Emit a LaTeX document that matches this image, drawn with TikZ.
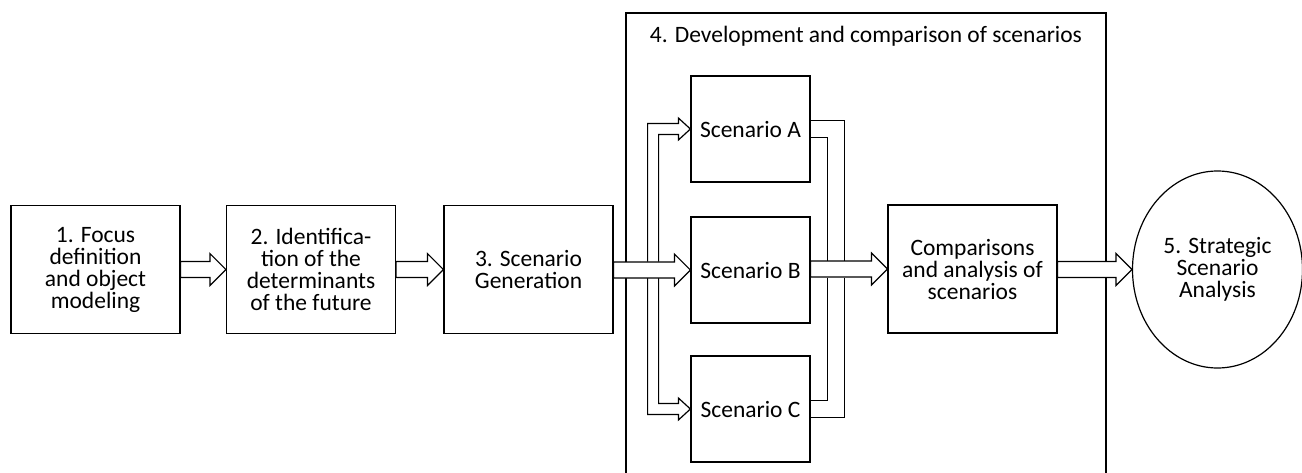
\documentclass[tikz,border=0pt]{standalone}
\usepackage{fontspec}
\setmainfont{Carlito}
\usetikzlibrary{calc,shapes.geometric}

% hollow block arrow from the east side of #1 to the west side of #2
\newcommand\hollowarrow[2]{%
  \draw[fill=white] let \p1=(#1.east), \p2=(#2.west) in
    (\x1,\y2+8pt) -- (\x2-16pt,\y2+8pt) -- (\x2-16pt,\y2+16pt) -- (\x2,\y2)
    -- (\x2-16pt,\y2-16pt) -- (\x2-16pt,\y2-8pt) -- (\x1,\y2-8pt) -- cycle;}

\begin{document}
\begin{tikzpicture}[x=1pt,y=-1pt,line width=1.2pt,
  every node/.style={font=\fontsize{23.5}{22}\selectfont},
  stage/.style={draw,rectangle,align=center,inner sep=0pt,
    minimum width=169pt,minimum height=128pt},
  scen/.style={draw,rectangle,align=center,inner sep=0pt,
    minimum width=119pt,minimum height=106pt}]
\useasboundingbox (0,0) rectangle (1302,472);
\clip (0,0) rectangle (1302,472);

% enclosing frame of stage 4
\draw (626,13) rectangle (1106,490);
\node[anchor=base] (title) at (866,42) {4. Development and comparison of scenarios};

% stages
\node[stage] (s1) at (95.5,269.5) {1. Focus\\definition\\and object\\modeling};
\node[stage] (s2) at (311,269.5) {2. Identifica-\\tion of the\\determinants\\of the future};
\node[stage] (s3) at (528.5,269.5) {3. Scenario\\Generation};
\node[scen] (sA) at (750.5,129) {Scenario A};
\node[scen] (sB) at (750.5,270) {Scenario B};
\node[scen] (sC) at (750.5,409) {Scenario C};
\node[stage] (cmp) at (972.5,269) {Comparisons\\and analysis of\\scenarios};
\node[draw,ellipse,inner sep=0pt,minimum width=170pt,minimum height=197pt,align=center]
  (s5) at (1217.5,269.5) {5. Strategic\\Scenario\\Analysis};

% branches from the main arrow up to scenario A and down to scenario C
\draw[fill=white] ($(s3.east)+(34,-8)$) |- ($(sA.west)+(-12,-5.5)$) -- ++(0,-5.5)
  -- (sA.west) -- ($(sA.west)+(-12,11)$) -- ++(0,-5.5) -| ($(s3.east)+(45,-8)$);
\draw[fill=white] ($(s3.east)+(45,8)$) |- ($(sC.west)+(-12,-5.5)$) -- ++(0,-5.5)
  -- (sC.west) -- ($(sC.west)+(-12,11)$) -- ++(0,-5.5) -| ($(s3.east)+(34,8)$);

% merging lines from scenarios A and C into the main arrow
\draw ($(sA.east)+(0,-8.5)$) -| ($(sB.east)+(34,-8)$);
\draw ($(sA.east)+(0,8.5)$) -| ($(sB.east)+(17,-8)$);
\draw ($(sC.east)+(0,-8.5)$) -| ($(sB.east)+(17,8)$);
\draw ($(sC.east)+(0,8.5)$) -| ($(sB.east)+(34,8)$);

% main flow
\hollowarrow{s1}{s2}
\hollowarrow{s2}{s3}
\hollowarrow{s3}{sB}
\hollowarrow{sB}{cmp}
\hollowarrow{cmp}{s5}
\end{tikzpicture}
\end{document}
